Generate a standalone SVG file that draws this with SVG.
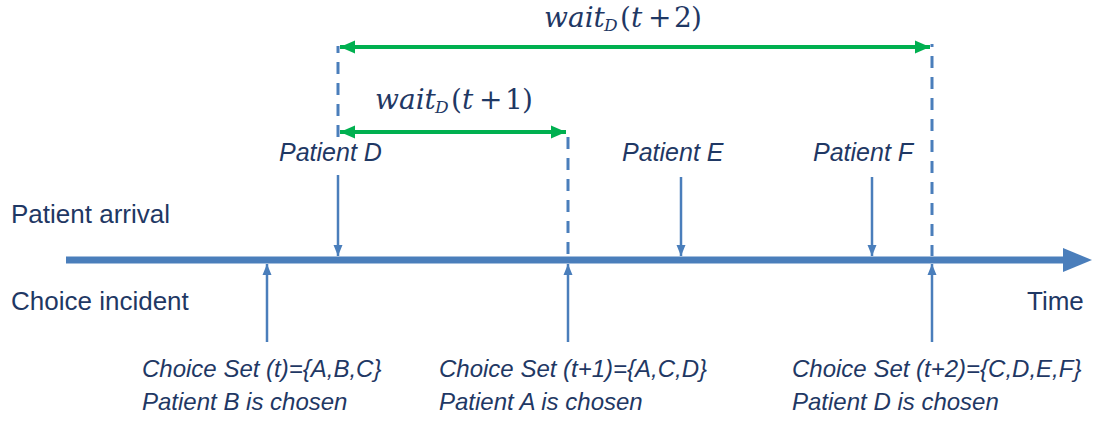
<svg xmlns="http://www.w3.org/2000/svg" width="1093" height="421" viewBox="0 0 1093 421">
<style>
.lbl{font-family:"Liberation Sans",Arial,sans-serif;font-size:26px;fill:#1F3864}
.it{font-style:italic;font-size:25px}
.bot{font-style:italic;font-size:24px}
.math{font-family:"DejaVu Serif","Liberation Serif",serif;font-size:28px;fill:#1F3864}
.thin{stroke:#4A7EBB;stroke-width:2.5;fill:none}
.dash{stroke:#4A7EBB;stroke-width:3;fill:none;stroke-dasharray:12 9}
.green{stroke:#00B050;stroke-width:4;fill:none}
</style>
<defs>
<marker id="ab" markerUnits="userSpaceOnUse" markerWidth="12" markerHeight="12" viewBox="0 0 12 12" refX="11" refY="6" orient="auto">
<path d="M0,1.5 L11,6 L0,10.5 Z" fill="#4A7EBB"/>
</marker>
<marker id="ag" markerUnits="userSpaceOnUse" markerWidth="16" markerHeight="14" viewBox="0 0 16 14" refX="15" refY="7" orient="auto-start-reverse">
<path d="M0,0.5 L15,7 L0,13.5 Z" fill="#00B050"/>
</marker>
</defs>
<g id="timeline">
<line x1="66" y1="260" x2="1066" y2="260" stroke="#4A7EBB" stroke-width="7"/>
<polygon points="1063,248 1092,260 1063,272" fill="#4A7EBB"/>
</g>
<g id="connectors">
<line class="thin" x1="338" y1="175" x2="338" y2="256" marker-end="url(#ab)"/>
<line class="thin" x1="681" y1="177" x2="681" y2="256" marker-end="url(#ab)"/>
<line class="thin" x1="872" y1="177" x2="872" y2="256" marker-end="url(#ab)"/>
<line class="thin" x1="267" y1="342" x2="267" y2="264" marker-end="url(#ab)"/>
<line class="thin" x1="568" y1="342" x2="568" y2="264" marker-end="url(#ab)"/>
<line class="thin" x1="932" y1="342" x2="932" y2="264" marker-end="url(#ab)"/>
<line class="dash" x1="338" y1="46" x2="338" y2="137" stroke-dashoffset="5"/>
<line class="dash" x1="568" y1="137" x2="568" y2="256"/>
<line class="dash" x1="932" y1="44" x2="932" y2="256" stroke-dashoffset="9"/>
<line class="green" x1="340" y1="47" x2="930" y2="47" marker-start="url(#ag)" marker-end="url(#ag)"/>
<line class="green" x1="340" y1="132" x2="566" y2="132" marker-start="url(#ag)" marker-end="url(#ag)"/>
</g>
<g id="wait2">
<text class="math" y="27"><tspan x="544" font-style="italic">wait</tspan><tspan x="604" y="31" font-size="17" font-style="italic">D</tspan><tspan x="620" y="27">(</tspan><tspan x="631" font-style="italic">t</tspan><tspan x="648">+</tspan><tspan x="674">2</tspan><tspan x="691">)</tspan></text>
</g>
<g id="wait1">
<text class="math" y="109"><tspan x="375" font-style="italic">wait</tspan><tspan x="435" y="113" font-size="17" font-style="italic">D</tspan><tspan x="451" y="109">(</tspan><tspan x="462" font-style="italic">t</tspan><tspan x="479">+</tspan><tspan x="505">1</tspan><tspan x="522">)</tspan></text>
</g>
<g id="labels-left">
<text class="lbl" x="11" y="223">Patient arrival</text>
<text class="lbl" x="11" y="310">Choice incident</text>
<text class="lbl" x="1027" y="310">Time</text>
</g>
<g id="patientD"><text class="lbl it" x="279" y="161">Patient D</text></g>
<g id="patientE"><text class="lbl it" x="622" y="161">Patient E</text></g>
<g id="patientF"><text class="lbl it" x="813" y="161">Patient F</text></g>
<g id="choice-t">
<text class="lbl bot" x="142" y="377">Choice Set (t)={A,B,C}</text>
<text class="lbl bot" x="142" y="410">Patient B is chosen</text>
</g>
<g id="choice-t1">
<text class="lbl bot" x="439" y="377">Choice Set (t+1)={A,C,D}</text>
<text class="lbl bot" x="439" y="410">Patient A is chosen</text>
</g>
<g id="choice-t2">
<text class="lbl bot" x="792" y="377">Choice Set (t+2)={C,D,E,F}</text>
<text class="lbl bot" x="792" y="410">Patient D is chosen</text>
</g>
</svg>
